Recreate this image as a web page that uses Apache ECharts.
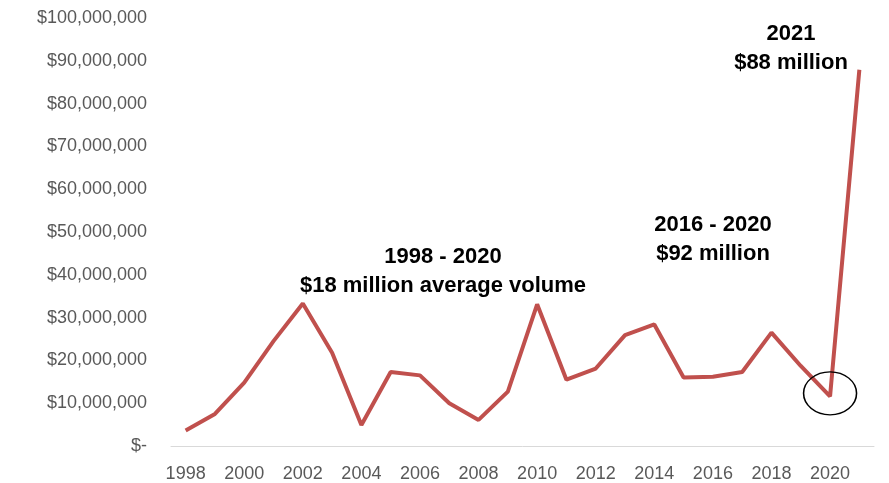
<!DOCTYPE html>
<html>
<head>
<meta charset="utf-8">
<script src="https://cdn.jsdelivr.net/npm/echarts@6/dist/echarts.min.js"></script>
<style>
html,body{margin:0;padding:0;background:#fff;}
#chart{width:889px;height:483px;}
</style>
</head>
<body>
<div id="chart"></div>
<script>
var years = ['1998','1999','2000','2001','2002','2003','2004','2005','2006','2007','2008','2009','2010','2011','2012','2013','2014','2015','2016','2017','2018','2019','2020','2021'];
var volume = [3.6e6,7.5e6,14.8e6,24.5e6,33.3e6,21.8e6,4.9e6,17.3e6,16.5e6,10.0e6,6.1e6,12.7e6,33.1e6,15.5e6,18.1e6,25.9e6,28.4e6,16.0e6,16.2e6,17.3e6,26.5e6,18.7e6,11.6e6,87.9e6];
var yTicks = {min: 0, max: 100000000, interval: 10000000};
var highlightYear = '2020';
var notes = [
  {lines: ['1998 - 2020', '$18 million average volume'], x: 443, y: 257},
  {lines: ['2016 - 2020', '$92 million'], x: 713, y: 225},
  {lines: ['2021', '$88 million'], x: 791, y: 34}
];

var chart = echarts.init(document.getElementById('chart'));
var graphics = [];
notes.forEach(function(n){
  n.lines.forEach(function(t, i){
    graphics.push({
      type: 'text',
      x: n.x,
      y: n.y + i * 29,
      style: {
        text: t,
        x: 0, y: 0,
        textAlign: 'center',
        textVerticalAlign: 'middle',
        fill: '#000',
        font: 'bold 22px "Liberation Sans", Arial, sans-serif'
      }
    });
  });
});

var hlIndex = years.indexOf(highlightYear);

chart.setOption({
  animation: false,
  backgroundColor: '#fff',
  grid: {left: 171, right: 15, top: 18, bottom: 36, containLabel: false},
  xAxis: {
    type: 'category',
    data: years,
    boundaryGap: true,
    axisLine: {lineStyle: {color: '#d9d9d9', width: 1}},
    axisTick: {show: false},
    axisLabel: {
      interval: 1,
      color: '#595959',
      fontSize: 18,
      fontFamily: '"Liberation Sans", Arial, sans-serif',
      margin: 19
    },
    splitLine: {show: false}
  },
  yAxis: {
    type: 'value',
    min: yTicks.min,
    max: yTicks.max,
    interval: yTicks.interval,
    axisLine: {show: false},
    axisTick: {show: false},
    splitLine: {show: false},
    axisLabel: {
      color: '#595959',
      fontSize: 18,
      fontFamily: '"Liberation Sans", Arial, sans-serif',
      margin: 24,
      formatter: function(v){
        if (v === 0) return '$-';
        return '$' + v.toLocaleString('en-US');
      }
    }
  },
  series: [{
    type: 'line',
    data: volume,
    symbol: 'none',
    lineStyle: {color: '#c0504d', width: 4},
    itemStyle: {color: '#c0504d'},
    markPoint: {
      silent: true,
      symbol: 'circle',
      symbolSize: [53, 43],
      symbolOffset: [0, -3],
      label: {show: false},
      itemStyle: {color: 'rgba(0,0,0,0)', borderColor: '#000', borderWidth: 1.4},
      data: [{coord: [highlightYear, volume[hlIndex]]}]
    }
  }],
  graphic: graphics
});
</script>
</body>
</html>
